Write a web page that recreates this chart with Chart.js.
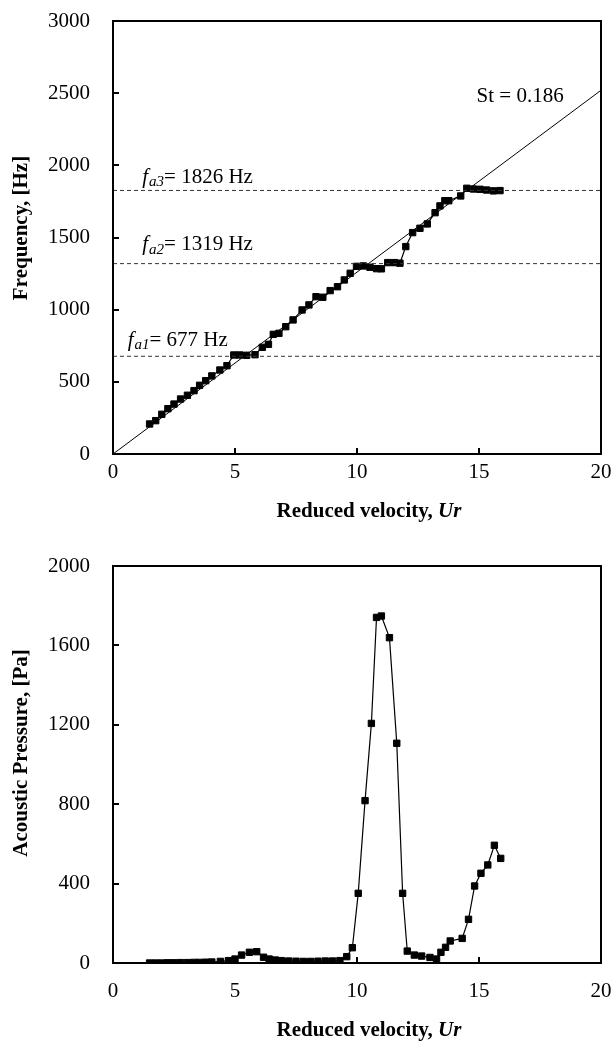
<!DOCTYPE html>
<html>
<head>
<meta charset="utf-8">
<script src="https://cdn.jsdelivr.net/npm/chart.js@4.4.1/dist/chart.umd.min.js"></script>
<style>
html, body { margin: 0; padding: 0; background: #fff; }
#wrap { position: relative; width: 613px; height: 1045px; }
#freqChart { position: absolute; left: 0; top: 0; }
#presChart { position: absolute; left: 0; top: 525px; }
</style>
</head>
<body>
<div id="wrap">
	<canvas id="freqChart" width="613" height="525" style="width:613px;height:525px"></canvas>
	<canvas id="presChart" width="613" height="520" style="width:613px;height:520px"></canvas>
</div>
<script>
// frequency vs reduced velocity
var urFreq = [1.5, 1.75, 2.0, 2.25, 2.5, 2.77, 3.05, 3.32, 3.55, 3.8, 4.05, 4.38, 4.67, 4.95, 5.2, 5.48, 5.82, 6.12, 6.37, 6.57,
	6.8, 7.08, 7.38, 7.75, 8.03, 8.32, 8.6, 8.9, 9.2, 9.48, 9.72, 9.98, 10.26, 10.53, 10.8, 11.0, 11.26, 11.53, 11.76, 12.0,
	12.28, 12.58, 12.88, 13.2, 13.4, 13.6, 13.76, 14.25, 14.5, 14.77, 15.04, 15.31, 15.59, 15.86];
var freq = [208, 231, 275, 314, 346, 381, 407, 439, 476, 508, 541, 582, 612, 686, 686, 684, 688, 739, 760, 829,
	836, 882, 929, 998, 1033, 1090, 1086, 1132, 1159, 1206, 1252, 1300, 1303, 1294, 1284, 1283, 1326, 1326, 1322, 1437,
	1534, 1564, 1594, 1672, 1719, 1755, 1755, 1788, 1841, 1836, 1834, 1829, 1823, 1825];

// Strouhal line St = 0.186
var stUr = [0, 20];
var stFreq = [0, 2520];

// acoustic resonance frequencies
var acNames = ["a3", "a2", "a1"];
var acFreq = [1826, 1319, 677];

// acoustic pressure vs reduced velocity
var urPres = [1.5, 1.75, 2.0, 2.25, 2.5, 2.77, 3.05, 3.32, 3.55, 3.8, 4.05, 4.4, 4.73, 5.0, 5.27, 5.59, 5.89, 6.17, 6.4, 6.65,
	6.9, 7.2, 7.5, 7.8, 8.1, 8.4, 8.7, 9.0, 9.3, 9.58, 9.81, 10.05, 10.33, 10.59, 10.8, 11.0, 11.33, 11.63, 11.87, 12.06,
	12.35, 12.65, 12.99, 13.26, 13.44, 13.63, 13.82, 14.31, 14.57, 14.82, 15.08, 15.36, 15.63, 15.89];
var pres = [0, 0, 0, 1, 1, 2, 2, 3, 3, 4, 5, 8, 12, 20, 40, 54, 57, 29, 20, 15,
	12, 10, 9, 8, 8, 9, 10, 10, 12, 32, 77, 351, 818, 1207, 1741, 1748, 1639, 1107, 351, 60,
	40, 35, 28, 20, 54, 79, 111, 124, 220, 388, 452, 494, 593, 527];

var xTicks = [0, 5, 10, 15, 20];

var FONT = "'Liberation Serif', 'Times New Roman', serif";

function pairs(xs, ys) {
	var out = [];
	for (var i in xs) {
		out.push({x: xs[i], y: ys[i]});
	}
	return out;
}

// box round the plot, inward tick marks, axis titles
var framePlugin = {
	id: 'frame',
	afterDraw: function(chart, args, o) {
		var ctx = chart.ctx;
		var a = chart.chartArea;
		var xs = chart.scales.x, ys = chart.scales.y;
		ctx.save();
		ctx.strokeStyle = '#000';
		ctx.lineWidth = 2;
		ctx.strokeRect(a.left, a.top, a.right - a.left, a.bottom - a.top);
		ctx.beginPath();
		xs.ticks.forEach(function(t) {
			if (t.value <= xs.min || t.value >= xs.max) return;
			var px = Math.round(xs.getPixelForValue(t.value));
			ctx.moveTo(px, a.bottom);
			ctx.lineTo(px, a.bottom - 6);
		});
		ys.ticks.forEach(function(t) {
			if (t.value <= ys.min || t.value >= ys.max) return;
			var py = Math.round(ys.getPixelForValue(t.value));
			ctx.moveTo(a.left, py);
			ctx.lineTo(a.left + 6, py);
		});
		ctx.stroke();

		// x title: bold, with italic Ur
		ctx.fillStyle = '#000';
		ctx.textBaseline = 'middle';
		ctx.textAlign = 'left';
		var f1 = 'bold 21px ' + FONT, f2 = 'italic bold 21px ' + FONT;
		ctx.font = f1;
		var w1 = ctx.measureText('Reduced velocity, ').width;
		ctx.font = f2;
		var w2 = ctx.measureText('Ur').width;
		var x0 = o.xTitleX - (w1 + w2) / 2;
		ctx.font = f1;
		ctx.fillText('Reduced velocity, ', x0, o.xTitleY);
		ctx.font = f2;
		ctx.fillText('Ur', x0 + w1, o.xTitleY);

		// y title
		ctx.translate(22, o.yTitleY);
		ctx.rotate(-Math.PI / 2);
		ctx.textAlign = 'center';
		ctx.font = f1;
		ctx.fillText(o.yTitle, 0, 0);
		ctx.restore();
	}
};

// labels on the top chart
var notePlugin = {
	id: 'notes',
	afterDatasetsDraw: function(chart) {
		var ctx = chart.ctx;
		var xs = chart.scales.x, ys = chart.scales.y;
		ctx.save();
		ctx.fillStyle = '#000';
		ctx.textBaseline = 'middle';
		ctx.textAlign = 'left';
		ctx.font = '21px ' + FONT;
		ctx.fillText('St = 0.186', xs.getPixelForValue(14.9), ys.getPixelForValue(2475));

		var labelUr = [1.2, 1.2, 0.6];
		var labelLift = [13, 19, 16];
		for (var i = 0; i < acNames.length; i++) {
			var x = xs.getPixelForValue(labelUr[i]);
			var y = ys.getPixelForValue(acFreq[i]) - labelLift[i];
			ctx.font = 'italic 21px ' + FONT;
			ctx.fillText('f', x, y);
			x += ctx.measureText('f').width + 1;
			ctx.font = 'italic 15px ' + FONT;
			ctx.fillText(acNames[i], x, y + 5);
			x += ctx.measureText(acNames[i]).width;
			ctx.font = '21px ' + FONT;
			ctx.fillText('= ' + acFreq[i] + ' Hz', x, y);
		}
		ctx.restore();
	}
};

function noPad(s) {
	s.paddingLeft = 0;
	s.paddingRight = 0;
	s.paddingTop = 0;
	s.paddingBottom = 0;
}

function axes(yMax, yStep, xHeight, xPad) {
	return {
		x: {
			type: 'linear', min: 0, max: 20,
			afterBuildTicks: function(s) { s.ticks = xTicks.map(function(v) { return {value: v}; }); },
			ticks: {font: {family: FONT, size: 21}, color: '#000', padding: xPad, maxRotation: 0,
				callback: function(v) { return String(v); }},
			grid: {drawOnChartArea: false, drawTicks: false},
			border: {display: true, color: '#000', width: 2},
			afterFit: function(s) { s.height = xHeight; noPad(s); }
		},
		y: {
			type: 'linear', min: 0, max: yMax,
			ticks: {stepSize: yStep, font: {family: FONT, size: 21}, color: '#000', padding: 23,
				callback: function(v) { return String(v); }},
			grid: {drawOnChartArea: false, drawTicks: false},
			border: {display: true, color: '#000', width: 2},
			afterFit: function(s) { s.width = 113; noPad(s); }
		}
	};
}

var markers = {
	showLine: true,
	borderColor: '#000',
	backgroundColor: '#000',
	borderWidth: 1.2,
	pointStyle: 'rect',
	pointRadius: 4.5,
	pointBorderWidth: 1,
	lineTension: 0
};

var freqSets = [];
for (var i = 0; i < acFreq.length; i++) {
	freqSets.push({
		data: pairs([0, 20], [acFreq[i], acFreq[i]]),
		showLine: true, pointRadius: 0, borderWidth: 1,
		borderColor: '#333', borderDash: [4, 3]
	});
}
freqSets.push({
	data: pairs(stUr, stFreq),
	showLine: true, pointRadius: 0, borderWidth: 1, borderColor: '#000'
});
freqSets.push(Object.assign({data: pairs(urFreq, freq)}, markers));

new Chart(document.getElementById('freqChart'), {
	type: 'scatter',
	data: {datasets: freqSets},
	options: {
		responsive: false,
		animation: false,
		layout: {padding: {top: 21, right: 12, left: 0, bottom: 0}},
		scales: axes(3000, 500, 71, 6),
		plugins: {
			legend: {display: false},
			tooltip: {enabled: false},
			frame: {xTitleX: 369, xTitleY: 512, yTitle: 'Frequency, [Hz]', yTitleY: 228}
		}
	},
	plugins: [framePlugin, notePlugin]
});

new Chart(document.getElementById('presChart'), {
	type: 'scatter',
	data: {datasets: [Object.assign({data: pairs(urPres, pres)}, markers)]},
	options: {
		responsive: false,
		animation: false,
		layout: {padding: {top: 41, right: 12, left: 0, bottom: 0}},
		scales: axes(2000, 400, 82, 16),
		plugins: {
			legend: {display: false},
			tooltip: {enabled: false},
			frame: {xTitleX: 369, xTitleY: 506, yTitle: 'Acoustic Pressure, [Pa]', yTitleY: 228}
		}
	},
	plugins: [framePlugin]
});
</script>
</body>
</html>
